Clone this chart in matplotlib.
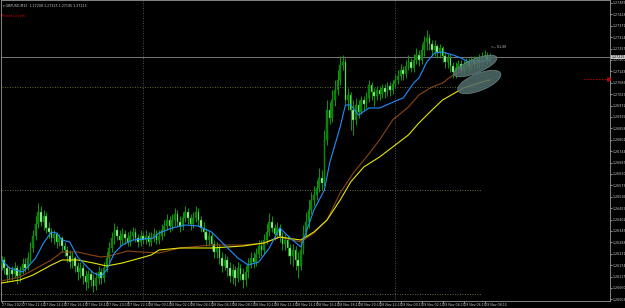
import numpy as np
import matplotlib.pyplot as plt
from matplotlib.patches import Ellipse
from matplotlib.transforms import IdentityTransform

# GBPUSD M15 bars, 27 Nov 10:15 .. 29 Nov 09:00
open_ = [1.26175, 1.2620, 1.2616, 1.26125, 1.2615, 1.2613, 1.2616, 1.2612, 1.2615, 1.2618,
         1.2616, 1.2621, 1.2626, 1.2632, 1.2638, 1.2644, 1.2639, 1.2642, 1.2636, 1.2634,
         1.2631, 1.2633, 1.2629, 1.2631, 1.2627, 1.2625, 1.2622, 1.2619, 1.2621, 1.2617,
         1.2614, 1.2616, 1.2612, 1.2609, 1.2613, 1.2610, 1.2607, 1.2611, 1.2614, 1.2611,
         1.2616, 1.2621, 1.2626, 1.2631, 1.2635, 1.2632, 1.2630, 1.2633, 1.2631, 1.2629,
         1.2632, 1.2634, 1.2631, 1.2629, 1.2632, 1.2630, 1.2632, 1.2629, 1.2631, 1.2633,
         1.2630, 1.2632, 1.2635, 1.2637, 1.2640, 1.2637, 1.2640, 1.2643, 1.2639, 1.2637,
         1.2641, 1.2644, 1.2641, 1.2638, 1.2641, 1.2644, 1.2640, 1.2636, 1.2634, 1.2630,
         1.2632, 1.2628, 1.2624, 1.2626, 1.2621, 1.2617, 1.2620, 1.2616, 1.2612, 1.2615,
         1.2611, 1.2616, 1.2613, 1.2610, 1.2614, 1.2618, 1.2621, 1.2619, 1.2623, 1.2627,
         1.2625, 1.2630, 1.2634, 1.2639, 1.2636, 1.2633, 1.2636, 1.2632, 1.2628, 1.2630,
         1.2626, 1.2622, 1.2625, 1.2620, 1.2617, 1.2625, 1.2634, 1.2639, 1.2645, 1.2650,
         1.26525, 1.2656, 1.2661, 1.26585, 1.2680, 1.2695, 1.2691, 1.2700, 1.2705, 1.2710,
         1.27175, 1.2719, 1.2700, 1.27025, 1.2695, 1.2690, 1.26975, 1.2694, 1.2700, 1.2698,
         1.2701, 1.27075, 1.2704, 1.2702, 1.2705, 1.2703, 1.2706, 1.2704, 1.2707, 1.2705,
         1.2708, 1.2710, 1.2712, 1.2715, 1.2713, 1.2717, 1.2719, 1.2716, 1.2720, 1.27225,
         1.2720, 1.2725, 1.2729, 1.2731, 1.2728, 1.2725, 1.2727, 1.2724, 1.2726, 1.2722,
         1.2719, 1.2721, 1.2717, 1.2714, 1.2716, 1.2718, 1.2715, 1.2717, 1.2719, 1.2717,
         1.2720, 1.2718, 1.2720, 1.2719, 1.2721, 1.2722, 1.2720]
high = [1.2622, 1.26215, 1.2618, 1.2617, 1.2617, 1.2619, 1.26175, 1.2617, 1.2621, 1.2621,
        1.2624, 1.2629, 1.2635, 1.2642, 1.26485, 1.2647, 1.2645, 1.2644, 1.2639, 1.2636,
        1.2635, 1.2634, 1.2633, 1.2632, 1.2629, 1.2627, 1.2625, 1.2624, 1.2622, 1.2619,
        1.2619, 1.2618, 1.2615, 1.2615, 1.2615, 1.2613, 1.2614, 1.2617, 1.2616, 1.2619,
        1.2624, 1.2629, 1.2634, 1.26385, 1.2637, 1.2635, 1.2636, 1.2635, 1.2634, 1.2635,
        1.26365, 1.2636, 1.2633, 1.2635, 1.2634, 1.2635, 1.2634, 1.2634, 1.2636, 1.2635,
        1.2635, 1.2638, 1.2640, 1.2643, 1.2642, 1.2643, 1.2646, 1.2645, 1.2642, 1.2644,
        1.2647, 1.2646, 1.2643, 1.2644, 1.2647, 1.2646, 1.2642, 1.2639, 1.2636, 1.2635,
        1.2634, 1.2630, 1.2629, 1.2628, 1.2624, 1.2623, 1.2622, 1.2619, 1.2618, 1.2617,
        1.2619, 1.2618, 1.2616, 1.2617, 1.2621, 1.2624, 1.2624, 1.2626, 1.2630, 1.2630,
        1.2633, 1.2638, 1.26435, 1.2642, 1.2638, 1.2639, 1.2638, 1.2634, 1.2633, 1.2632,
        1.2628, 1.2628, 1.2627, 1.2624, 1.2630, 1.26375, 1.2644, 1.2650, 1.2654, 1.2657,
        1.2660, 1.2666, 1.2665, 1.2685, 1.2700, 1.2699, 1.2705, 1.2710, 1.2715, 1.2722,
        1.27225, 1.2721, 1.2706, 1.2704, 1.2700, 1.2701, 1.2700, 1.2702, 1.2702, 1.2704,
        1.2710, 1.2709, 1.2706, 1.2707, 1.2707, 1.2708, 1.2708, 1.2709, 1.2709, 1.2710,
        1.2713, 1.2715, 1.2718, 1.2717, 1.2720, 1.27225, 1.2721, 1.2723, 1.2726, 1.2725,
        1.2728, 1.2732, 1.2735, 1.2733, 1.2730, 1.2730, 1.2728, 1.2728, 1.2727, 1.2724,
        1.2723, 1.2723, 1.2719, 1.2719, 1.2720, 1.2720, 1.2720, 1.2721, 1.2721, 1.2722,
        1.2722, 1.2722, 1.2723, 1.2724, 1.2725, 1.2724, 1.27235]
low = [1.2615, 1.2613, 1.2609, 1.2610, 1.2610, 1.2611, 1.2608, 1.2609, 1.2613, 1.2614,
       1.2615, 1.2619, 1.2624, 1.2630, 1.2636, 1.2637, 1.2635, 1.26335, 1.2631, 1.2629,
       1.2628, 1.2626, 1.2627, 1.2624, 1.2622, 1.2619, 1.2616, 1.2616, 1.2614, 1.2610,
       1.2611, 1.2608, 1.2605, 1.2606, 1.2607, 1.2604, 1.2605, 1.2608, 1.2608, 1.2609,
       1.2614, 1.2619, 1.2624, 1.2628, 1.2630, 1.2627, 1.2628, 1.2628, 1.2627, 1.2627,
       1.2630, 1.2629, 1.26265, 1.2627, 1.2628, 1.2628, 1.2627, 1.2627, 1.2629, 1.2628,
       1.2628, 1.2630, 1.2632, 1.2635, 1.2634, 1.2635, 1.2637, 1.2637, 1.2634, 1.2635,
       1.2639, 1.2638, 1.2635, 1.2636, 1.2639, 1.2637, 1.2634, 1.2631, 1.2627, 1.2627,
       1.2625, 1.2621, 1.2621, 1.2618, 1.2614, 1.2615, 1.2612, 1.2609, 1.2608, 1.2607,
       1.2609, 1.2610, 1.2606, 1.2607, 1.2611, 1.2616, 1.2616, 1.2617, 1.2621, 1.2622,
       1.2623, 1.2628, 1.2632, 1.2634, 1.2630, 1.2631, 1.2629, 1.2625, 1.2625, 1.2622,
       1.2618, 1.2617, 1.2615, 1.2611, 1.2615, 1.2623, 1.2632, 1.2636, 1.2643, 1.2647,
       1.2650, 1.2654, 1.2655, 1.2657, 1.26775, 1.2688, 1.2689, 1.2697, 1.27025, 1.27075,
       1.2715, 1.2698, 1.2695, 1.2685, 1.26825, 1.26875, 1.2691, 1.2693, 1.2695, 1.2696,
       1.2699, 1.2700, 1.2697, 1.2700, 1.2700, 1.2701, 1.2701, 1.2702, 1.2702, 1.2703,
       1.2706, 1.2708, 1.2710, 1.2710, 1.2711, 1.2715, 1.2714, 1.2714, 1.2718, 1.2717,
       1.2718, 1.2722, 1.2725, 1.2725, 1.2722, 1.2722, 1.2721, 1.2721, 1.2719, 1.2716,
       1.2716, 1.2714, 1.2711, 1.2711, 1.2714, 1.2713, 1.2713, 1.2715, 1.2714, 1.2715,
       1.2716, 1.2716, 1.2716, 1.2717, 1.2719, 1.2718, 1.27185]
close = [1.2620, 1.2616, 1.26125, 1.2615, 1.2613, 1.2616, 1.2612, 1.2615, 1.2618, 1.2616,
         1.2621, 1.2626, 1.2632, 1.2638, 1.2644, 1.2639, 1.2642, 1.2636, 1.2634, 1.2631,
         1.2633, 1.2629, 1.2631, 1.2627, 1.2625, 1.2622, 1.2619, 1.2621, 1.2617, 1.2614,
         1.2616, 1.2612, 1.2609, 1.2613, 1.2610, 1.2607, 1.2611, 1.2614, 1.2611, 1.2616,
         1.2621, 1.2626, 1.2631, 1.2635, 1.2632, 1.2630, 1.2633, 1.2631, 1.2629, 1.2632,
         1.2634, 1.2631, 1.2629, 1.2632, 1.2630, 1.2632, 1.2629, 1.2631, 1.2633, 1.2630,
         1.2632, 1.2635, 1.2637, 1.2640, 1.2637, 1.2640, 1.2643, 1.2639, 1.2637, 1.2641,
         1.2644, 1.2641, 1.2638, 1.2641, 1.2644, 1.2640, 1.2636, 1.2634, 1.2630, 1.2632,
         1.2628, 1.2624, 1.2626, 1.2621, 1.2617, 1.2620, 1.2616, 1.2612, 1.2615, 1.2611,
         1.2616, 1.2613, 1.2610, 1.2614, 1.2618, 1.2621, 1.2619, 1.2623, 1.2627, 1.2625,
         1.2630, 1.2634, 1.2639, 1.2636, 1.2633, 1.2636, 1.2632, 1.2628, 1.2630, 1.2626,
         1.2622, 1.2625, 1.2620, 1.2617, 1.2625, 1.2634, 1.2639, 1.2645, 1.2650, 1.26525,
         1.2656, 1.2661, 1.26585, 1.2680, 1.2695, 1.2691, 1.2700, 1.2705, 1.2710, 1.27175,
         1.2719, 1.2700, 1.27025, 1.2695, 1.2690, 1.26975, 1.2694, 1.2700, 1.2698, 1.2701,
         1.27075, 1.2704, 1.2702, 1.2705, 1.2703, 1.2706, 1.2704, 1.2707, 1.2705, 1.2708,
         1.2710, 1.2712, 1.2715, 1.2713, 1.2717, 1.2719, 1.2716, 1.2720, 1.27225, 1.2720,
         1.2725, 1.2729, 1.2731, 1.2728, 1.2725, 1.2727, 1.2724, 1.2726, 1.2722, 1.2719,
         1.2721, 1.2717, 1.2714, 1.2716, 1.2718, 1.2715, 1.2717, 1.2719, 1.2717, 1.2720,
         1.2718, 1.2720, 1.2719, 1.2721, 1.2722, 1.2720, 1.27215]

# moving averages at some bars
fast_bars = [0, 3, 8, 10, 13, 16, 19, 21, 23, 26, 29, 33, 35, 38, 40, 43, 46, 50, 54, 58,
             60, 65, 70, 75, 80, 85, 90, 94, 98, 102, 106, 110, 114, 115, 119, 123, 125, 129,
             131, 133, 136, 140, 144, 151, 153, 157, 159, 162, 165, 168, 172, 175, 178, 181,
             184, 186]
fast_ma = [1.2620, 1.2616, 1.2614, 1.26165, 1.2621, 1.26285, 1.2634, 1.26335, 1.2630, 1.2629,
           1.26215, 1.2616, 1.26135, 1.2612, 1.2615, 1.26235, 1.26275, 1.2630, 1.26305, 1.2631,
           1.26335, 1.2636, 1.26375, 1.2637, 1.2634, 1.26275, 1.2621, 1.26175, 1.2619, 1.2626,
           1.2636, 1.2631, 1.26265, 1.2630, 1.2645, 1.2655, 1.26685, 1.26865, 1.26975, 1.26975,
           1.26925, 1.2696, 1.2696, 1.2700, 1.2701, 1.27085, 1.2711, 1.2719, 1.27235, 1.2724,
           1.27225, 1.2721, 1.2719, 1.2719, 1.27195, 1.27205]
mid_bars = [0, 7, 12, 19, 23, 29, 34, 38, 41, 48, 53, 60, 68, 80, 92, 100, 106, 114, 119,
            124, 129, 134, 139, 144, 149, 155, 159, 164, 168, 172, 176, 181, 186]
mid_ma = [1.26095, 1.26115, 1.2615, 1.2620, 1.2624, 1.2624, 1.26225, 1.26215, 1.2622,
          1.26245, 1.2624, 1.26235, 1.2626, 1.26275, 1.26275, 1.26285, 1.26315, 1.2629,
          1.26335, 1.2640, 1.26535, 1.26635, 1.26715, 1.2680, 1.2690, 1.26965, 1.27025,
          1.27065, 1.27085, 1.27125, 1.2715, 1.27185, 1.2720]
slow_bars = [0, 7, 12, 19, 23, 29, 35, 40, 46, 53, 57, 60, 68, 80, 92, 100, 106, 114, 119,
             124, 129, 133, 138, 144, 151, 155, 159, 164, 168, 176, 183, 186]
slow_ma = [1.26085, 1.2610, 1.26125, 1.26175, 1.2620, 1.2620, 1.26185, 1.2617, 1.26185,
           1.2621, 1.26225, 1.2625, 1.2626, 1.2626, 1.2627, 1.26285, 1.26315, 1.2630, 1.2634,
           1.2640, 1.2650, 1.2659, 1.26665, 1.26715, 1.26785, 1.26825, 1.26885, 1.2695,
           1.2700, 1.2706, 1.2709, 1.2710]

bid = 1.27215
levels = [1.27065, 1.2655, 1.2603]
level_end_bar = 183
red_level = 1.27105
day_starts = [54, 150]
price_ticks = [1.27485, 1.27428, 1.27371, 1.27314, 1.27257, 1.27200, 1.27143, 1.27086,
               1.27029, 1.26972, 1.26915, 1.26858, 1.26801, 1.26744, 1.26687, 1.26630,
               1.26573, 1.26516, 1.26459, 1.26402, 1.26345, 1.26288, 1.26231, 1.26174,
               1.26117, 1.26060, 1.26003]
time_bars = list(range(0, 187, 8))
time_labels = ["27 Nov 2023", "27 Nov 12:15", "27 Nov 14:15", "27 Nov 16:15", "27 Nov 18:15",
               "27 Nov 20:15", "27 Nov 22:15", "28 Nov 00:15", "28 Nov 02:15", "28 Nov 04:15",
               "28 Nov 06:15", "28 Nov 08:15", "28 Nov 10:15", "28 Nov 12:15", "28 Nov 14:15",
               "28 Nov 16:15", "28 Nov 18:15", "28 Nov 20:15", "28 Nov 22:15", "29 Nov 00:15",
               "29 Nov 02:15", "29 Nov 04:15", "29 Nov 06:15", "29 Nov 08:15"]

fg = '#c8c8c8'
fs = 2.3
fig = plt.figure(figsize=(6.25, 3.08), dpi=100, facecolor='black')
ax = fig.add_axes([1 / 625, 7 / 308, 609 / 625, 301 / 308], facecolor='black')

o = np.array(open_)
c = np.array(close)
h = np.array(high)
l = np.array(low)
x = np.arange(len(c))
up = c >= o

ax.vlines(x, l, h, color='#0a9a0a', linewidth=0.7, zorder=2)
ax.bar(x[up], np.maximum(c[up] - o[up], 0.00002), bottom=o[up], width=0.62,
       color='#0b7d0b', edgecolor='#0a9a0a', linewidth=0.3, zorder=3)
ax.bar(x[~up], o[~up] - c[~up], bottom=c[~up], width=0.62,
       color='#b4f5b0', edgecolor='#0a9a0a', linewidth=0.3, zorder=3)

ax.plot(mid_bars, mid_ma, color='#8b4513', linewidth=0.8, zorder=4)
ax.plot(slow_bars, slow_ma, color='#e6e600', linewidth=0.8, zorder=4)
ax.plot(fast_bars, fast_ma, color='#1e90ff', linewidth=0.8, zorder=5)

ax.set_xlim(-0.2, 231.8)
ax.set_ylim(1.25995, 1.2750)

# levels and separators
for lv in levels:
    ax.plot([0, level_end_bar], [lv, lv], color='#8a8a3a', linewidth=0.6,
            linestyle=(0, (1, 2)), zorder=1)
for d in day_starts:
    ax.axvline(d, color='#6a6a6a', linewidth=0.6, linestyle=(0, (1, 2)), zorder=1)
ax.axhline(bid, color='#8a8a8a', linewidth=0.6, zorder=1)
ax.plot([222, 231.5], [red_level, red_level], color='#c00000', linewidth=0.6,
        linestyle=(0, (2, 1.5)), zorder=5)
ax.plot([231.3], [red_level], marker='>', color='#c00000', markersize=2.5, zorder=5)

# the two highlight ellipses
fig.canvas.draw()
for (bx, py), w, hh, ang in [((180.5, 1.2717), 46, 14, 22), ((182, 1.2709), 46, 17, 22)]:
    cx, cy = ax.transData.transform((bx, py))
    ax.add_patch(Ellipse((cx, cy), w, hh, angle=ang, transform=IdentityTransform(),
                         facecolor='#4f6c6c', edgecolor='#6a8a8a', alpha=0.85,
                         linewidth=0.6, zorder=6))

ax.text(186.5, 1.27265, "<-- 61.06", color=fg, fontsize=fs, va='center', zorder=7)

# axes look
for s in ax.spines.values():
    s.set_color('#9a9a9a')
    s.set_linewidth(0.6)
ax.yaxis.tick_right()
ax.set_yticks(price_ticks)
ax.set_yticklabels([f"{p:.5f}" for p in price_ticks])
ax.set_xticks(time_bars)
ax.set_xticklabels(time_labels, ha='left')
ax.tick_params(axis='y', colors=fg, labelsize=fs, length=1.2, width=0.5, pad=0.6)
ax.tick_params(axis='x', colors=fg, labelsize=fs, length=1.2, width=0.5, pad=0.6)

ax.text(1.002, bid, f"{bid:.5f}", transform=ax.get_yaxis_transform(), fontsize=fs,
        color='black', va='center', ha='left',
        bbox=dict(boxstyle='square,pad=0.15', facecolor='#c8c8c8', edgecolor='none'), zorder=8)

fig.text(3 / 625, 1 - 6 / 308, "\u25be GBPUSD,M15  1.27208 1.27225 1.27195 1.27215",
         color=fg, fontsize=fs, va='center')
fig.text(2 / 625, 1 - 16 / 308, "Reset Levels", color='#e00000', fontsize=2.6, va='center')

fig.savefig('out.png', dpi=100, facecolor='black')
